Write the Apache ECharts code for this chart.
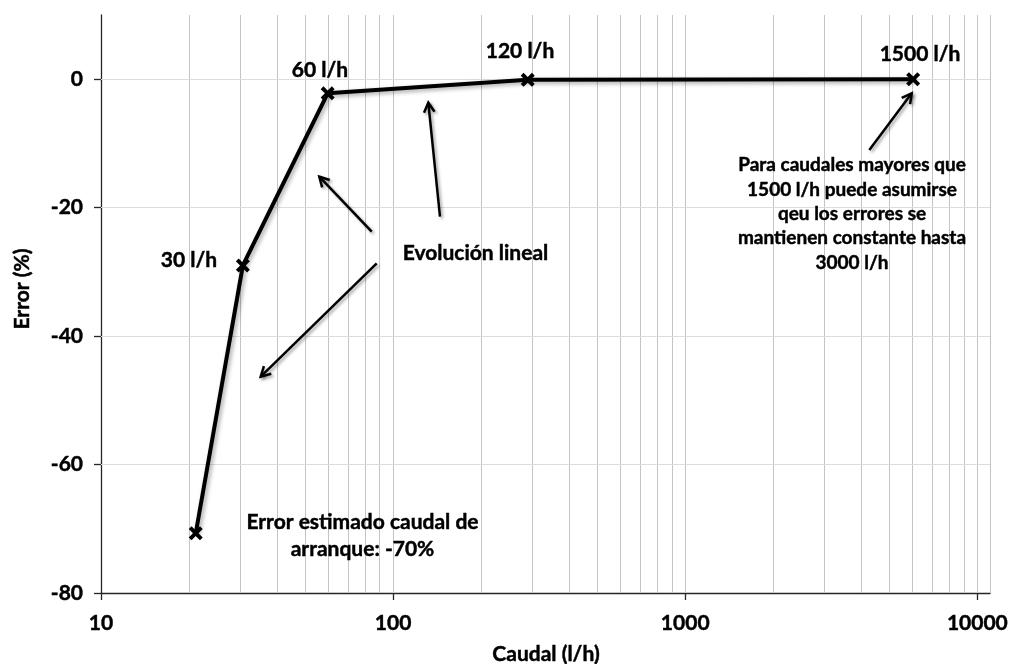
<!DOCTYPE html>
<html><head><meta charset="utf-8">
<script src="https://cdn.jsdelivr.net/npm/echarts@6/dist/echarts.min.js"></script>
<style>html,body{margin:0;padding:0;background:#fff}#c{width:1011px;height:664px}</style>
</head><body><div id="c"></div>
<script>
// ---- data ----
const pointLabels = ['', '30 l/h', '60 l/h', '120 l/h', '1500 l/h'];
const caudal = [21.1, 30.6, 59.7, 289, 6030];
const errorPct = [-70.7, -29.0, -2.2, -0.1, 0.0];
const xTickValues = [10, 100, 1000, 10000];
const yTickValues = [-80, -60, -40, -20, 0];
const xGridValues = [20, 30, 40, 50, 60, 70, 80, 90, 100, 200, 300, 400, 500, 600, 700, 800, 900,
  1000, 2000, 3000, 4000, 5000, 6000, 7000, 8000, 9000, 10000, 11050];
const yGridValues = [-60, -40, -20, 0];
const xName = 'Caudal (l/h)';
const yName = 'Error (%)';
const noteEvol = 'Evolución lineal';
const noteHigh = ['Para caudales mayores que', '1500 l/h puede asumirse', 'qeu los errores se', 'mantienen constante hasta', '3000 l/h'];
const noteStart = ['Error estimado caudal de', 'arranque: -70%'];

// ---- styling / layout ----
const FONT = 'Lato';
const BIG = 21, SMALL = 19;
const TXT = '#000';
const EMB = 0.45; // slight emboldening stroke
const XPATH = 'path://M0,2 L2,0 L5,3 L8,0 L10,2 L7,5 L10,8 L8,10 L5,7 L2,10 L0,8 L3,5 Z';

const chart = echarts.init(document.getElementById('c'));

function txt(text, x, y, size, extra) {
  return {
    type: 'text', x: x, y: y, z: 20,
    style: Object.assign({ text: text, fill: TXT, font: 'bold ' + size + 'px ' + FONT,
      stroke: TXT, lineWidth: EMB,
      align: 'center', verticalAlign: 'middle' }, extra || {})
  };
}
function arrow(x1, y1, x2, y2) {
  const ang = Math.atan2(y2 - y1, x2 - x1), L = 11, a = 0.5;
  const p1 = [x2 - L * Math.cos(ang - a), y2 - L * Math.sin(ang - a)];
  const p2 = [x2 - L * Math.cos(ang + a), y2 - L * Math.sin(ang + a)];
  const st = { stroke: '#000', lineWidth: 2.5, fill: null,
    shadowColor: 'rgba(0,0,0,0.35)', shadowBlur: 3, shadowOffsetX: 2, shadowOffsetY: 2 };
  return [
    { type: 'line', z: 20, shape: { x1: x1, y1: y1, x2: x2, y2: y2 }, style: st },
    { type: 'polyline', z: 20, shape: { points: [p1, [x2, y2], p2] }, style: Object.assign({}, st, { lineJoin: 'miter' }) }
  ];
}

const graphics = [
  txt(yName, 22.5, 289, BIG, {}),
  txt(xName, 546, 654, BIG),
  txt(pointLabels[1], 189, 260, BIG),
  txt(pointLabels[2], 320, 70, BIG),
  txt(pointLabels[3], 520, 51, BIG),
  txt(pointLabels[4], 920, 54.5, BIG),
  txt(noteEvol, 475.5, 253, BIG),
  txt(noteHigh.join('\n'), 852, 213.8, SMALL, { lineHeight: 24.4 }),
  txt(noteStart.join('\n'), 362.5, 535.4, BIG, { lineHeight: 27.3 })
].concat(
  arrow(371.7, 231.7, 319.3, 176.7),
  arrow(440, 216.7, 428.3, 102.7),
  arrow(376.7, 263.3, 260.7, 376.7),
  arrow(869.3, 150, 911.7, 93.3)
);
graphics[0].rotation = Math.PI / 2;

const axisColor = '#262626';
const labelStyle = { fontFamily: FONT, fontWeight: 'bold', fontSize: BIG, color: TXT,
  textBorderColor: TXT, textBorderWidth: EMB };

chart.setOption({
  animation: false,
  backgroundColor: '#fff',
  grid: { left: 101, right: 18, top: 15, bottom: 71, containLabel: false },
  xAxis: {
    type: 'log', logBase: 10, min: 10, max: 11050,
    axisLine: { onZero: false, lineStyle: { color: axisColor, width: 1.3 } },
    axisTick: { customValues: xTickValues, length: 7, lineStyle: { color: axisColor, width: 1.3 } },
    axisLabel: Object.assign({ customValues: xTickValues, margin: 20,
      formatter: v => (xTickValues.indexOf(Math.round(v)) >= 0 ? String(Math.round(v)) : '') }, labelStyle),
    splitLine: { show: false }
  },
  yAxis: {
    type: 'value', min: -80, max: 10, interval: 20,
    axisLine: { onZero: false, lineStyle: { color: axisColor, width: 1.3 } },
    axisTick: { show: true, customValues: yTickValues, length: 7, lineStyle: { color: axisColor, width: 1.3 } },
    axisLabel: Object.assign({ customValues: yTickValues, margin: 18,
      formatter: v => (yTickValues.indexOf(Math.round(v)) >= 0 ? String(Math.round(v)) : '') }, labelStyle),
    splitLine: { show: false }
  },
  series: [
    {
      type: 'line', data: [], z: 1, silent: true,
      markLine: {
        silent: true, symbol: ['none', 'none'], animation: false,
        label: { show: false },
        lineStyle: { type: 'solid', width: 1, color: '#c4c4c4' },
        emphasis: { disabled: true },
        data: xGridValues.map(v => ({ xAxis: v }))
          .concat(yGridValues.map(v => ({ yAxis: v, lineStyle: { color: '#dcdcdc', type: 'solid', width: 1 } })))
      }
    },
    {
      type: 'line', z: 5,
      data: caudal.map((x, i) => [x, errorPct[i]]),
      symbol: XPATH, symbolSize: 14, showSymbol: true,
      itemStyle: { color: '#000' },
      lineStyle: { color: '#000', width: 4, shadowColor: 'rgba(0,0,0,0.35)', shadowBlur: 4, shadowOffsetX: 2, shadowOffsetY: 2 }
    }
  ],
  graphic: graphics
});
</script>
</body></html>
